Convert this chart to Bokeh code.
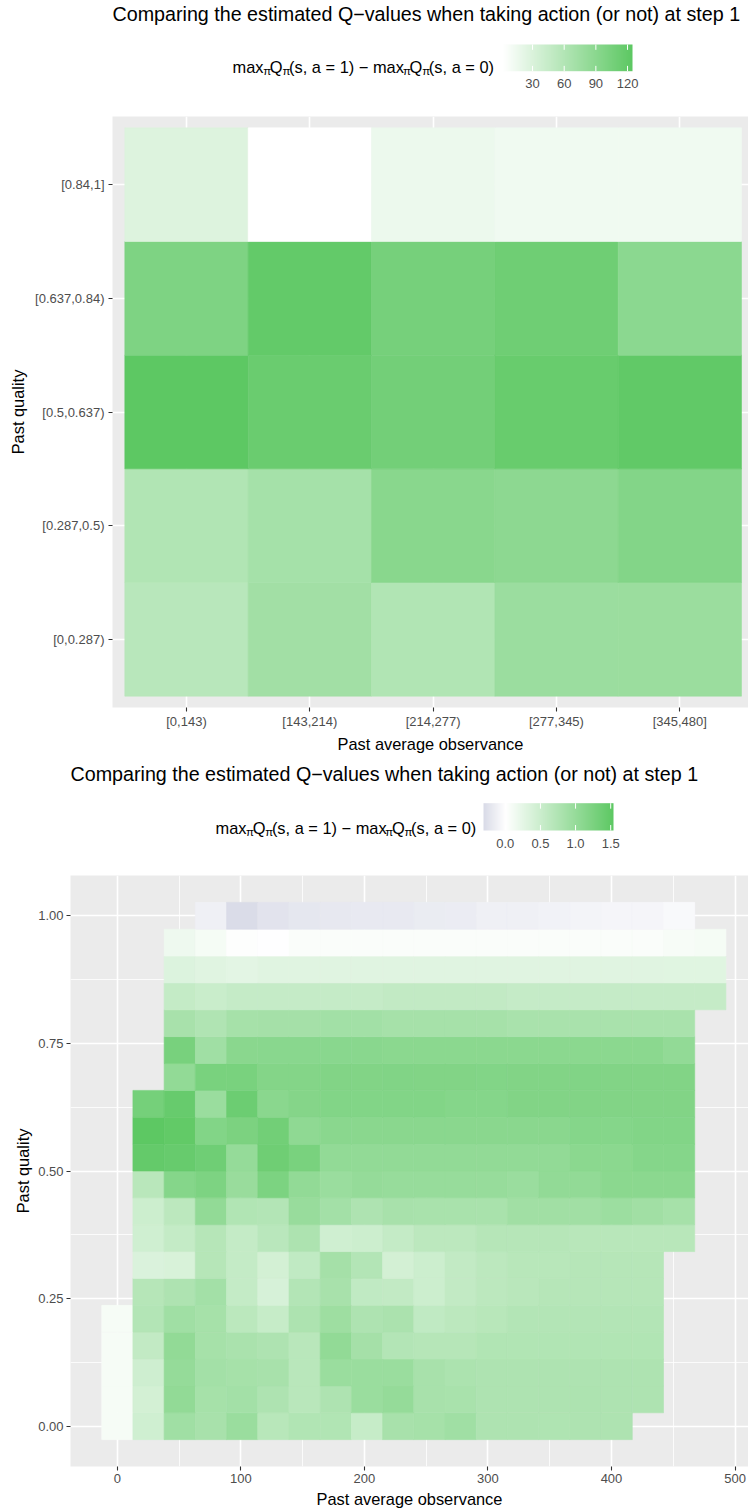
import numpy as np
from bokeh.plotting import figure
from bokeh.models import (Range1d, FixedTicker, LinearColorMapper, Label,
                          PrintfTickFormatter, ColumnDataSource)
from bokeh.transform import transform
from bokeh.embed import file_html
from bokeh.resources import INLINE

FONT = "Liberation Sans"
W = 748
TITLE = "Comparing the estimated Q\u2212values when taking action (or not) at step 1"

# ---------------- binned summary (upper chart) ----------------
obs_bins = ["[0,143)", "[143,214)", "[214,277)", "[277,345)", "[345,480]"]
quality_bins = ["[0,0.287)", "[0.287,0.5)", "[0.5,0.637)", "[0.637,0.84)", "[0.84,1]"]
gain_q1 = [55.1, 72.7, 60.4, 77.3, 78.0]
gain_q2 = [60.4, 69.6, 91.1, 88.0, 95.7]
gain_q3 = [124.7, 114.8, 107.9, 116.3, 121.6]
gain_q4 = [99.5, 120.1, 105.6, 110.9, 89.5]
gain_q5 = [27.6, 1.6, 16.1, 13.1, 13.1]
binned_gain = [gain_q1, gain_q2, gain_q3, gain_q4, gain_q5]
binned_ticks = [30, 60, 90, 120]

# ---------------- fine grid (lower chart) ----------------
obs_centers = [0.0, 25.26, 50.53, 75.79, 101.05, 126.32, 151.58, 176.84, 202.11, 227.37,
               252.63, 277.89, 303.16, 328.42, 353.68, 378.95, 404.21, 429.47, 454.74, 480.0]
quality_centers = [0.0, 0.0526, 0.1053, 0.1579, 0.2105, 0.2632, 0.3158, 0.3684, 0.4211, 0.4737,
                   0.5263, 0.5789, 0.6316, 0.6842, 0.7368, 0.7895, 0.8421, 0.8947, 0.9474, 1.0]
# index of the first observed obs bin in each quality row
first_obs_index = [0, 0, 0, 0, 0, 1, 1, 1, 1, 1, 1, 1, 1, 2, 2, 2, 2, 2, 2, 3]

dq_q00 = [0.09, 0.45, 0.90, 0.83, 0.96, 0.68, 0.74, 0.74, 0.54, 0.83, 0.85, 0.90, 0.77, 0.77, 0.76, 0.77, 0.77]
dq_q01 = [0.09, 0.42, 1.03, 0.85, 0.87, 0.77, 0.67, 0.77, 0.96, 1.00, 0.83, 0.82, 0.77, 0.77, 0.77, 0.78, 0.77, 0.77]
dq_q02 = [0.09, 0.47, 1.01, 0.87, 0.85, 0.83, 0.67, 0.96, 0.96, 0.96, 0.83, 0.79, 0.77, 0.77, 0.77, 0.77, 0.77, 0.77]
dq_q03 = [0.09, 0.58, 1.03, 0.85, 0.81, 0.77, 0.67, 1.03, 0.86, 0.72, 0.70, 0.70, 0.74, 0.74, 0.74, 0.74, 0.74, 0.74]
dq_q04 = [0.09, 0.72, 0.90, 0.85, 0.65, 0.54, 0.78, 0.92, 0.77, 0.80, 0.60, 0.64, 0.68, 0.72, 0.72, 0.72, 0.72, 0.72]
dq_q05 = [0.70, 0.77, 0.87, 0.56, 0.39, 0.72, 0.83, 0.60, 0.58, 0.48, 0.58, 0.64, 0.67, 0.70, 0.70, 0.70, 0.70]
dq_q06 = [0.35, 0.37, 0.70, 0.56, 0.42, 0.60, 0.86, 0.72, 0.42, 0.48, 0.58, 0.64, 0.68, 0.68, 0.70, 0.70, 0.70]
dq_q07 = [0.46, 0.56, 0.70, 0.56, 0.66, 0.78, 0.46, 0.49, 0.56, 0.64, 0.64, 0.70, 0.70, 0.70, 0.68, 0.68, 0.68, 0.68]
dq_q08 = [0.49, 0.64, 1.04, 0.74, 0.72, 0.98, 0.87, 0.77, 0.83, 0.82, 0.82, 0.82, 0.89, 0.89, 0.89, 0.94, 0.89, 0.85]
dq_q09 = [0.67, 1.15, 1.23, 0.97, 1.24, 1.04, 0.96, 1.01, 0.99, 0.99, 0.99, 0.99, 0.96, 1.04, 1.04, 1.10, 1.10, 1.10]
dq_q10 = [1.47, 1.44, 1.36, 1.00, 1.37, 1.27, 1.03, 1.04, 1.03, 1.04, 1.04, 1.04, 1.04, 1.04, 1.10, 1.10, 1.15, 1.15]
dq_q11 = [1.54, 1.49, 1.18, 1.25, 1.34, 1.07, 1.11, 1.11, 1.11, 1.11, 1.11, 1.11, 1.11, 1.11, 1.15, 1.15, 1.18, 1.18]
dq_q12 = [1.31, 1.44, 0.96, 1.39, 1.11, 1.16, 1.18, 1.18, 1.18, 1.18, 1.15, 1.15, 1.19, 1.19, 1.19, 1.19, 1.19, 1.19]
dq_q13 = [1.03, 1.27, 1.27, 1.17, 1.17, 1.19, 1.19, 1.20, 1.19, 1.19, 1.18, 1.19, 1.19, 1.20, 1.19, 1.19, 1.19]
dq_q14 = [1.28, 0.90, 1.11, 1.12, 1.12, 1.12, 1.12, 1.10, 1.10, 1.10, 1.10, 1.10, 1.10, 1.10, 1.10, 1.10, 1.04]
dq_q15 = [0.83, 0.75, 0.85, 0.86, 0.86, 0.88, 0.88, 0.85, 0.85, 0.85, 0.85, 0.82, 0.82, 0.82, 0.82, 0.82, 0.82]
dq_q16 = [0.56, 0.52, 0.55, 0.55, 0.55, 0.55, 0.55, 0.58, 0.58, 0.58, 0.58, 0.55, 0.55, 0.55, 0.55, 0.55, 0.55, 0.55]
dq_q17 = [0.33, 0.30, 0.27, 0.30, 0.30, 0.30, 0.30, 0.30, 0.30, 0.30, 0.30, 0.30, 0.30, 0.30, 0.30, 0.30, 0.29, 0.29]
dq_q18 = [0.16, 0.10, 0.02, 0.00, 0.05, 0.05, 0.05, 0.05, 0.05, 0.05, 0.05, 0.05, 0.05, 0.05, 0.05, 0.05, 0.08, 0.10]
dq_q19 = [-0.13, -0.31, -0.24, -0.21, -0.20, -0.19, -0.19, -0.17, -0.16, -0.13, -0.13, -0.11, -0.10, -0.08, -0.08, -0.05]
fine_rows = [dq_q00, dq_q01, dq_q02, dq_q03, dq_q04, dq_q05, dq_q06, dq_q07, dq_q08, dq_q09,
             dq_q10, dq_q11, dq_q12, dq_q13, dq_q14, dq_q15, dq_q16, dq_q17, dq_q18, dq_q19]
fine_ticks = [0.0, 0.5, 1.0, 1.5]
fine_tick_labels = ["0.0", "0.5", "1.0", "1.5"]

# ---------------- colour scales ----------------
WHITE = (255, 255, 255)
GREEN = (93, 200, 99)
LAVENDER = (218, 220, 232)


def ramp(stop_vals, stop_cols, lo, hi, n=256):
    v = np.linspace(lo, hi, n)
    ch = [np.interp(v, stop_vals, [c[i] for c in stop_cols]) for i in range(3)]
    return ["#%02x%02x%02x" % tuple(int(round(c[j])) for c in ch) for j in range(n)]


flat_binned = [g for row in binned_gain for g in row]
lo1, hi1 = min(flat_binned), max(flat_binned)
map1 = LinearColorMapper(palette=ramp([lo1, hi1], [WHITE, GREEN], lo1, hi1), low=lo1, high=hi1)

flat_fine = [g for row in fine_rows for g in row]
lo2, hi2 = min(flat_fine), max(flat_fine)
map2 = LinearColorMapper(palette=ramp([lo2, 0.0, hi2], [LAVENDER, WHITE, GREEN], lo2, hi2),
                         low=lo2, high=hi2)

# ---------------- header (title + colour legend) ----------------
ADV = {'m': 0.833, 'a': 0.556, 'x': 0.5, 'Q': 0.778, '(': 0.333, ')': 0.333, 's': 0.5,
       ',': 0.278, ' ': 0.278, '=': 0.584, '1': 0.556, '0': 0.556, '\u2212': 0.584, '\u03c0': 0.58}
LEGEND_PIECES = [("max", False), ("\u03c0", True), ("Q", False), ("\u03c0", True),
                 ("(s, a = 1) \u2212 max", False), ("\u03c0", True), ("Q", False), ("\u03c0", True),
                 ("(s, a = 0)", False)]


def header(height, title_x, title_y, leg_x0, leg_x1, leg_y, bar_x0, bar_y0, bar_y1,
           mapper, lo, hi, ticks, tick_labels, tick_y):
    p = figure(width=W, height=height, x_range=Range1d(0, W), y_range=Range1d(0, height),
               x_axis_type=None, y_axis_type=None, toolbar_location=None,
               output_backend="svg", min_border=0)
    p.outline_line_color = None
    p.background_fill_color = "white"
    p.border_fill_color = "white"
    Y = lambda px: height - px

    p.add_layout(Label(x=title_x, y=Y(title_y), text=TITLE, text_font=FONT,
                       text_font_size="19.7px", text_color="black",
                       text_align="left", text_baseline="middle"))

    # legend title assembled from normal and subscript pieces
    fs, sub_fs = 16.4, 11.5
    widths = []
    for txt, sub in LEGEND_PIECES:
        size = sub_fs if sub else fs
        widths.append(sum(ADV.get(c, 0.55) for c in txt) * size)
    scale = (leg_x1 - leg_x0) / sum(widths)
    x = leg_x0
    for (txt, sub), w in zip(LEGEND_PIECES, widths):
        p.add_layout(Label(x=x, y=Y(leg_y + (4 if sub else 0)), text=txt, text_font=FONT,
                           text_font_size="%.1fpx" % (sub_fs if sub else fs),
                           text_color="black", text_align="left", text_baseline="middle"))
        x += w * scale

    # colour bar
    bar_w = 130
    bar_h = bar_y1 - bar_y0
    p.image(image=[np.linspace(lo, hi, 260).reshape(1, -1)], x=bar_x0, y=Y(bar_y1),
            dw=bar_w, dh=bar_h, color_mapper=mapper)
    tx = [bar_x0 + (t - lo) / (hi - lo) * bar_w for t in ticks]
    tick_len = bar_h / 5
    p.segment(x0=tx, x1=tx, y0=[Y(bar_y0)] * len(tx), y1=[Y(bar_y0 + tick_len)] * len(tx),
              line_color="white", line_width=1)
    p.segment(x0=tx, x1=tx, y0=[Y(bar_y1)] * len(tx), y1=[Y(bar_y1 - tick_len)] * len(tx),
              line_color="white", line_width=1)
    for xv, lab in zip(tx, tick_labels):
        p.add_layout(Label(x=xv, y=Y(tick_y), text=lab, text_font=FONT,
                           text_font_size="13px", text_color="#4D4D4D",
                           text_align="center", text_baseline="middle"))
    return p


def style_axes(p):
    p.background_fill_color = "#EBEBEB"
    p.border_fill_color = "white"
    p.outline_line_color = None
    for ax in p.axis:
        ax.axis_line_color = None
        ax.major_tick_line_color = "#333333"
        ax.major_tick_line_width = 1.1
        ax.major_tick_out = 4
        ax.major_tick_in = 0
        ax.minor_tick_line_color = None
        ax.major_label_text_color = "#4D4D4D"
        ax.major_label_text_font = FONT
        ax.major_label_text_font_size = "13px"
        ax.axis_label_text_font = FONT
        ax.axis_label_text_font_size = "16.4px"
        ax.axis_label_text_font_style = "normal"
        ax.axis_label_text_color = "black"
    for g in p.grid:
        g.grid_line_color = "white"
        g.grid_line_width = 1.6


# ---------------- upper chart: binned heatmap ----------------
h1 = header(116, 112, 13, 232, 493, 66, 502, 44, 70.7, map1, lo1, hi1,
            binned_ticks, [str(t) for t in binned_ticks], 83)

xs1, ys1, vs1 = [], [], []
for qi, row in enumerate(binned_gain):
    for oi, g in enumerate(row):
        xs1.append(oi + 1)
        ys1.append(qi + 1)
        vs1.append(g)
src1 = ColumnDataSource(dict(x=xs1, y=ys1, gain=vs1))

p1 = figure(width=W, height=639, x_range=Range1d(0.4, 5.557), y_range=Range1d(0.4, 5.6),
            toolbar_location=None, output_backend="svg",
            min_border_left=112, min_border_right=0, min_border_top=0, min_border_bottom=45,
            x_axis_label="Past average observance", y_axis_label="Past quality")
p1.rect(x="x", y="y", width=1, height=1, source=src1,
        fill_color=transform("gain", map1), line_color=transform("gain", map1), line_width=0.6)
p1.xaxis.ticker = FixedTicker(ticks=list(range(1, len(obs_bins) + 1)))
p1.yaxis.ticker = FixedTicker(ticks=list(range(1, len(quality_bins) + 1)))
p1.xaxis.major_label_overrides = {i + 1: b for i, b in enumerate(obs_bins)}
p1.yaxis.major_label_overrides = {i + 1: b for i, b in enumerate(quality_bins)}
style_axes(p1)
p1.xaxis.major_label_standoff = 2
p1.yaxis.major_label_standoff = 4
p1.xaxis.axis_label_standoff = 3
p1.yaxis.axis_label_standoff = 5

# ---------------- lower chart: fine heatmap ----------------
h2 = header(120, 70, 18, 215, 475, 72.7, 483, 47.7, 75, map2, lo2, hi2,
            fine_ticks, fine_tick_labels, 87.7)

xs2, ys2, vs2 = [], [], []
for j, row in enumerate(fine_rows):
    for i, g in enumerate(row):
        xs2.append(obs_centers[first_obs_index[j] + i])
        ys2.append(quality_centers[j])
        vs2.append(g)
src2 = ColumnDataSource(dict(x=xs2, y=ys2, gain=vs2))
cell_w = obs_centers[1] - obs_centers[0]
cell_h = quality_centers[1] - quality_centers[0]

p2 = figure(width=W, height=635, x_range=Range1d(-37.89, 510.9), y_range=Range1d(-0.0789, 1.0789),
            toolbar_location=None, output_backend="svg",
            min_border_left=70, min_border_right=0, min_border_top=0, min_border_bottom=42,
            x_axis_label="Past average observance", y_axis_label="Past quality")
p2.rect(x="x", y="y", width=cell_w, height=cell_h, source=src2,
        fill_color=transform("gain", map2), line_color=transform("gain", map2), line_width=0.6)
p2.xaxis.ticker = FixedTicker(ticks=[0, 100, 200, 300, 400, 500],
                              minor_ticks=[50, 150, 250, 350, 450])
p2.yaxis.ticker = FixedTicker(ticks=[0, 0.25, 0.5, 0.75, 1.0],
                              minor_ticks=[0.125, 0.375, 0.625, 0.875])
p2.yaxis.formatter = PrintfTickFormatter(format="%.2f")
style_axes(p2)
for g in p2.grid:
    g.minor_grid_line_color = "white"
    g.minor_grid_line_width = 0.8
p2.xaxis.major_label_standoff = 3
p2.yaxis.major_label_standoff = 3
p2.xaxis.axis_label_standoff = 4
p2.yaxis.axis_label_standoff = 3

# each panel is its own root so their frames keep independent left edges
open("out.html", "w").write(file_html([h1, p1, h2, p2], INLINE))
